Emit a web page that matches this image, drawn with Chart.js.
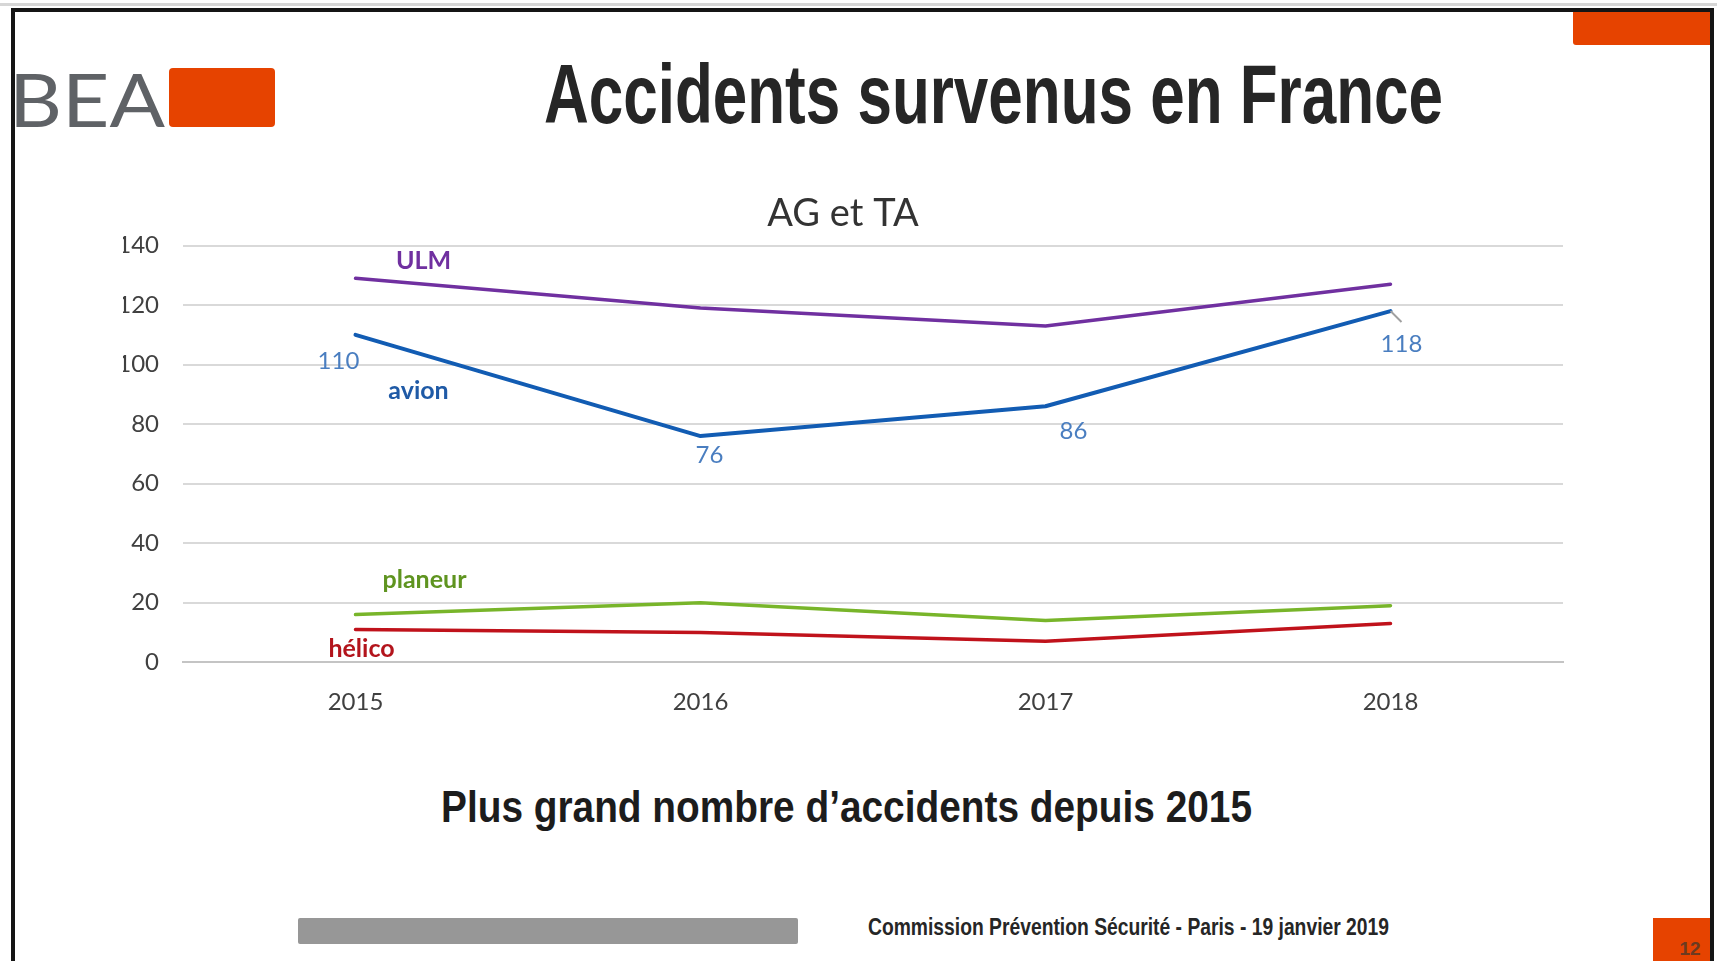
<!DOCTYPE html>
<html>
<head>
<meta charset="utf-8">
<script src="https://cdn.jsdelivr.net/npm/chart.js@4.4.1/dist/chart.umd.min.js"></script>
<style>
html, body { margin: 0; padding: 0; background: #fff; }
body { width: 1717px; height: 961px; position: relative; overflow: hidden; font-family: Lato, "Open Sans", sans-serif; }
.abs { position: absolute; }
.narrow { position: absolute; font-family: "Liberation Sans", Arial, sans-serif; font-weight: bold; white-space: nowrap; line-height: 1; transform-origin: 0 50%; }
#chartBox { position: absolute; left: 0; top: 150px; }
</style>
</head>
<body>
<!-- slide frame -->
<div class="abs" style="left:0;top:3px;width:1717px;height:3px;background:#d6d6d6"></div>
<div class="abs" style="left:11px;top:8px;width:1703px;height:4px;background:#151515"></div>
<div class="abs" style="left:1710px;top:8px;width:4px;height:953px;background:#151515"></div>
<div class="abs" style="left:1573px;top:12px;width:137px;height:33px;background:#e64300;border-bottom-left-radius:3px"></div>
<div class="abs" style="left:1653px;top:918px;width:57px;height:43px;background:#e64300"></div>
<div class="abs" style="left:1672px;top:938px;width:36px;font:bold 19px 'Liberation Sans',Arial,sans-serif;color:#6b3a20;text-align:center">12</div>

<!-- logo -->
<div class="narrow" id="bea" data-x="9" data-cy="98" data-w="156" style="font-family:Lato,'Open Sans',sans-serif;font-weight:normal;font-size:74px;color:#5f6266">BEA</div>
<div class="abs" style="left:169px;top:68px;width:106px;height:59px;background:#e64300;border-radius:4px"></div>
<div class="abs" style="left:11px;top:8px;width:4px;height:953px;background:#151515"></div>

<div class="narrow" data-x="544" data-cy="93" data-w="899" style="font-size:84px;color:#262626">Accidents survenus en France</div>

<div id="chartBox"><canvas id="chart" width="1717" height="600"></canvas></div>

<div class="narrow" data-x="441" data-cy="807" data-w="811" style="font-size:44px;color:#1c1c1c">Plus grand nombre d’accidents depuis 2015</div>

<div class="abs" style="left:298px;top:918px;width:500px;height:26px;background:#979797;border-radius:2px"></div>
<div class="narrow" data-x="868" data-cy="927" data-w="521" style="font-size:24px;color:#262626">Commission Prévention Sécurité - Paris - 19 janvier 2019</div>

<script>
const years = ["2015", "2016", "2017", "2018"];
const ulm = [129, 119, 113, 127];
const avion = [110, 76, 86, 118];
const planeur = [16, 20, 14, 19];
const helico = [11, 10, 7, 13];

// squeeze the narrow bold texts to the width they have on the slide
document.querySelectorAll(".narrow").forEach(el => {
    const w = el.getBoundingClientRect().width;
    const h = el.getBoundingClientRect().height;
    el.style.left = el.dataset.x + "px";
    el.style.top = (el.dataset.cy - h * 0.49) + "px";
    el.style.transform = "scaleX(" + (el.dataset.w / w) + ")";
});

// series names and value labels, placed from the data points
const seriesNames = [
    { ds: 0, text: "ULM", color: "#7030a0", dx: 68, dy: -17 },
    { ds: 1, text: "avion", color: "#1f5aa6", dx: 63, dy: 56 },
    { ds: 2, text: "planeur", color: "#5f9420", dx: 69, dy: -35 },
    { ds: 3, text: "hélico", color: "#b3141c", dx: 6, dy: 19 }
];
const avionOffsets = [[-17, 26], [9, 19], [28, 25], [11, 33]];

const labelPlugin = {
    id: "labels",
    afterDatasetsDraw(chart) {
        const ctx = chart.ctx;
        ctx.save();
        ctx.textAlign = "center";
        ctx.textBaseline = "middle";
        ctx.font = "bold 25px Lato, 'Open Sans', sans-serif";
        seriesNames.forEach(s => {
            const pt = chart.getDatasetMeta(s.ds).data[0];
            ctx.fillStyle = s.color;
            ctx.fillText(s.text, pt.x + s.dx, pt.y + s.dy);
        });
        // leader line of the last value
        const pts = chart.getDatasetMeta(1).data;
        const last = pts[pts.length - 1];
        ctx.strokeStyle = "#a0a0a0";
        ctx.lineWidth = 2;
        ctx.beginPath();
        ctx.moveTo(last.x, last.y);
        ctx.lineTo(last.x + 11, last.y + 11);
        ctx.stroke();
        ctx.font = "24px Lato, 'Open Sans', sans-serif";
        ctx.fillStyle = "#4a7ec0";
        pts.forEach((p, i) => {
            ctx.fillText(String(avion[i]), p.x + avionOffsets[i][0], p.y + avionOffsets[i][1]);
        });
        ctx.restore();
    }
};

function line(data, color, width) {
    return {
        data: data,
        borderColor: color,
        borderWidth: width,
        pointRadius: 0,
        tension: 0,
        borderCapStyle: "round",
        borderJoinStyle: "round",
        fill: false
    };
}

new Chart(document.getElementById("chart"), {
    type: "line",
    data: {
        labels: years,
        datasets: [
            line(ulm, "#7030a0", 3.5),
            line(avion, "#125cb3", 4),
            line(planeur, "#78b52a", 3.5),
            line(helico, "#c0121b", 3.5)
        ]
    },
    options: {
        responsive: false,
        animation: false,
        layout: { padding: { left: 123, right: 154, top: 0, bottom: 0 } },
        plugins: {
            legend: { display: false },
            tooltip: { enabled: false },
            title: {
                display: true,
                text: "AG et TA",
                color: "#333333",
                font: { family: "Lato, 'Open Sans', sans-serif", size: 38, weight: "normal" },
                padding: { top: 41, bottom: 9 }
            }
        },
        scales: {
            x: {
                offset: true,
                grid: { display: false, drawTicks: false },
                border: { display: true, color: "#c4c4c4", width: 2 },
                ticks: { color: "#404040", padding: 26, font: { family: "Lato, 'Open Sans', sans-serif", size: 24 } },
                afterFit: s => { s.height = 87.8; }
            },
            y: {
                min: 0,
                max: 140,
                ticks: { stepSize: 20, color: "#404040", padding: 24, font: { family: "Lato, 'Open Sans', sans-serif", size: 24 } },
                grid: { color: "#d9d9d9", lineWidth: 2, drawTicks: false },
                border: { display: false },
                afterFit: s => { s.width = 60; }
            }
        }
    },
    plugins: [labelPlugin]
});
</script>
</body>
</html>
